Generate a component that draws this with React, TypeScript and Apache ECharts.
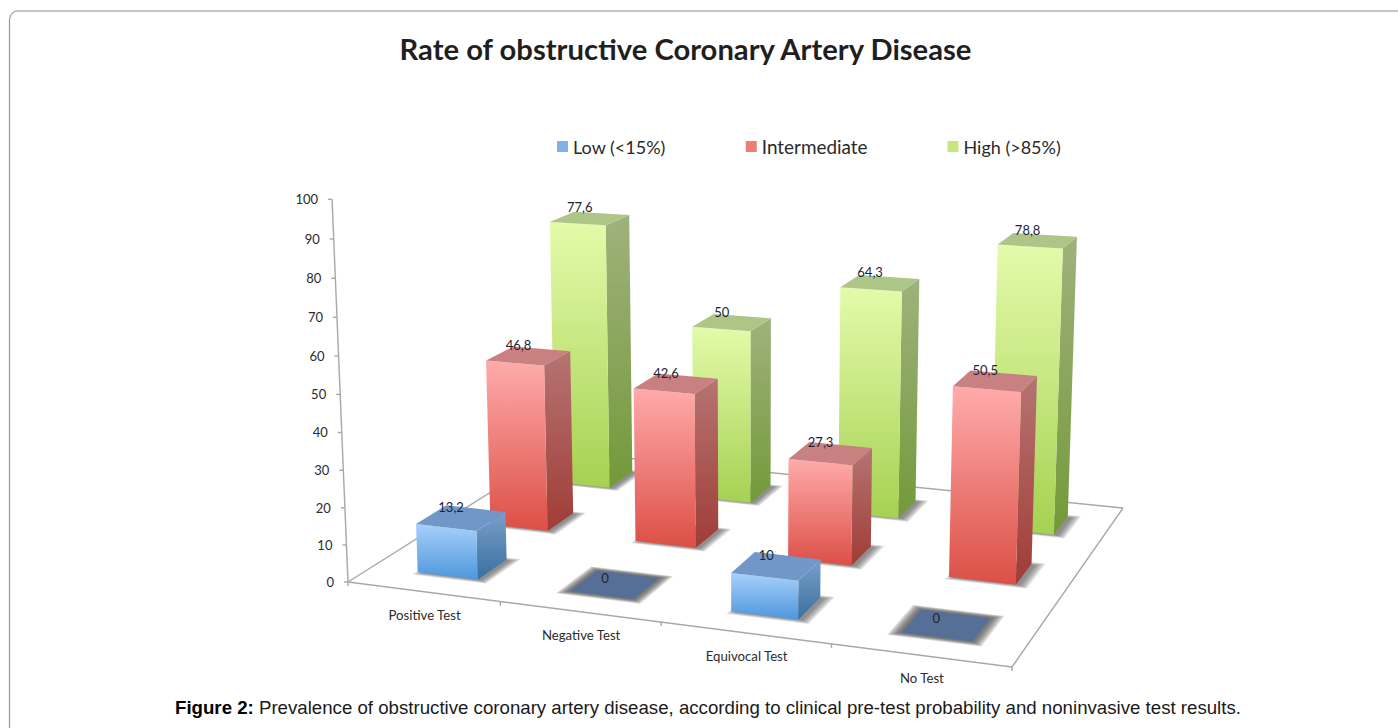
import React, { useEffect, useRef } from "react";
import * as echarts from "echarts";

const categories = ["Positive Test", "Negative Test", "Equivocal Test", "No Test"];
const lowValues = [13.2, 0, 10, 0];
const intermediateValues = [46.8, 42.6, 27.3, 50.5];
const highValues = [77.6, 50, 64.3, 78.8];
const valueTicks = [0, 10, 20, 30, 40, 50, 60, 70, 80, 90, 100];
const seriesNames = ["Low (<15%)", "Intermediate", "High (>85%)"];

const FONT = "Lato, 'Open Sans', sans-serif";
const A = [348, 582], B = [1012, 667], C = [1123, 508], D = [556, 451];
const VP = [750, 10243];
const VK = -3.81e-4;
const BAR_W = 0.1, BAR_D = 0.133, BAR_SHIFT = 0.002;
const SHADOW_STEPS = [0.016, 0.013, 0.01, 0.007, 0.004];

function homography() {
  const [x0, y0] = A, [x1, y1] = B, [x2, y2] = C, [x3, y3] = D;
  const dx1 = x1 - x2, dx2 = x3 - x2, sx = x0 - x1 + x2 - x3;
  const dy1 = y1 - y2, dy2 = y3 - y2, sy = y0 - y1 + y2 - y3;
  const det = dx1 * dy2 - dx2 * dy1;
  const g = (sx * dy2 - dx2 * sy) / det;
  const h = (dx1 * sy - sx * dy1) / det;
  return [x1 - x0 + g * x1, x3 - x0 + h * x3, x0, y1 - y0 + g * y1, y3 - y0 + h * y3, y0, g, h, 1];
}
const H = homography();
function project(u: number, z: number, v: number): number[] {
  const w = H[6] * u + H[7] * z + 1 + v * VK;
  const x = H[0] * u + H[1] * z + H[2] + v * VK * VP[0];
  const y = H[3] * u + H[4] * z + H[5] + v * VK * VP[1];
  return [x / w, y / w];
}
function normalised(params: any, api: any, cat: number, value: number) {
  const c = api.coord([cat, value]);
  const s = params.coordSys;
  return { u: (c[0] - s.x) / s.width, v: (100 * (s.y + s.height - c[1])) / s.height };
}
const grad = (a: string, b: string) =>
  new echarts.graphic.LinearGradient(0, 0, 0, 1, [{ offset: 0, color: a }, { offset: 1, color: b }]);

const palette = [
  { front: ["#a8d0fb", "#4d97dc"], side: ["#7b9fca", "#39709f"], top: "#7197c9", zero: "#566f96" },
  { front: ["#ffabab", "#dc4f46"], side: ["#b57473", "#a03c36"], top: "#c98080", zero: "#b06060" },
  { front: ["#e3fbaa", "#a6d152"], side: ["#9fb27c", "#73993a"], top: "#aec588", zero: "#90a070" },
];
const rowOf = (s: number) => (s + 0.5) / 3;

function foot(u: number, z: number, grow = 0, du = 0, dz = 0) {
  const hw = BAR_W / 2 + grow, hd = BAR_D / 2 + grow * 1.2;
  return [
    project(u - hw + du, z - hd + dz, 0),
    project(u + hw + du, z - hd + dz, 0),
    project(u + hw + du, z + hd + dz, 0),
    project(u - hw + du, z + hd + dz, 0),
  ];
}

function renderShadow(params: any, api: any) {
  const { u } = normalised(params, api, api.value(0), 0);
  const val = api.value(1);
  const z = rowOf(api.value(2));
  const uc = u + BAR_SHIFT;
  const isZero = val === 0;
  return {
    type: "group",
    silent: true,
    children: SHADOW_STEPS.map((g) => ({
      type: "polygon",
      shape: { points: isZero ? foot(uc, z, g) : foot(uc, z, g - 0.005, 0.008, -0.002) },
      style: { fill: isZero ? "rgba(70,70,70,0.22)" : "rgba(70,70,70,0.17)" },
    })),
  };
}

function makeBarRenderer(s: number) {
  return (params: any, api: any) => {
    const { u: u0, v } = normalised(params, api, api.value(0), api.value(1));
    const u = u0 + BAR_SHIFT;
    const z = rowOf(s);
    const p = palette[s];
    const hw = BAR_W / 2, hd = BAR_D / 2;
    const b = (uu: number, zz: number) => project(uu, zz, 0);
    const t = (uu: number, zz: number) => project(uu, zz, v);
    const fl = u - hw, fr = u + hw, zf = z - hd, zb = z + hd;
    const children: any[] = [];
    if (v > 0) {
      children.push({
        type: "polygon",
        shape: { points: [t(fr, zf), t(fr, zb), b(fr, zb), b(fr, zf)] },
        style: { fill: grad(p.side[0], p.side[1]) },
      });
      children.push({
        type: "polygon",
        shape: { points: [t(fl, zf), t(fr, zf), b(fr, zf), b(fl, zf)] },
        style: { fill: grad(p.front[0], p.front[1]) },
      });
    }
    children.push({
      type: "polygon",
      shape: { points: [t(fl, zf), t(fr, zf), t(fr, zb), t(fl, zb)] },
      style: { fill: v > 0 ? p.top : p.zero },
    });
    const c = t(u, z);
    children.push({
      type: "text",
      x: c[0] - 10,
      y: c[1] - (v > 0 ? 11 : 7),
      style: {
        text: String(api.value(1)).replace(".", ","),
        fill: "#1c2433",
        font: `13px ${FONT}`,
        align: "center",
        verticalAlign: "middle",
      },
    });
    return { type: "group", silent: true, children };
  };
}

const LINE = { stroke: "#a8a8a8", lineWidth: 1.4 };
function seg(a: number[], b: number[]) {
  return { type: "line", shape: { x1: a[0], y1: a[1], x2: b[0], y2: b[1] }, style: LINE };
}

function renderFloor() {
  const children: any[] = [seg(A, B), seg(B, C), seg(C, D), seg(D, A), seg(A, project(0, 0, 100))];
  for (let i = 0; i <= categories.length; i++) {
    const p = project(i / categories.length, 0, 0);
    children.push(seg(p, [p[0], p[1] + 4]));
  }
  return { type: "group", silent: true, children };
}

function renderValueTick(params: any, api: any) {
  const { v } = normalised(params, api, 0, api.value(0));
  const p = project(0, 0, v);
  return {
    type: "group",
    silent: true,
    children: [
      seg([p[0] - 4, p[1]], p),
      {
        type: "text",
        x: p[0] - 14,
        y: p[1],
        style: {
          text: String(api.value(0)),
          fill: "#2b2b2b",
          font: `13px ${FONT}`,
          align: "right",
          verticalAlign: "middle",
        },
      },
    ],
  };
}

function renderCategoryLabel(params: any, api: any) {
  const i = api.value(0);
  const { u } = normalised(params, api, i, 0);
  const p = project(u, 0, 0);
  return {
    type: "text",
    silent: true,
    x: p[0] + 1.5,
    y: p[1] + 23,
    style: {
      text: categories[i],
      fill: "#2b2b2b",
      font: `13.2px ${FONT}`,
      align: "center",
      verticalAlign: "middle",
    },
  };
}

const shadowData: number[][] = [];
[highValues, intermediateValues, lowValues].forEach((arr, k) =>
  arr.forEach((val, i) => shadowData.push([i, val, 2 - k]))
);

function toBarData(values: number[]) {
  return values.map((val, i) => [i, val]);
}

export default function App() {
  const ref = useRef<HTMLDivElement>(null);
  useEffect(() => {
    if (!ref.current) return;
    const chart = echarts.init(ref.current, undefined, { renderer: "svg" });
    const custom = { type: "custom", coordinateSystem: "cartesian2d", silent: true, clip: false };
    chart.setOption({
      animation: false,
      backgroundColor: "#ffffff",
      title: {
        text: "Rate of obstructive Coronary Artery Disease",
        left: 680.5,
        top: 29,
        textAlign: "center",
        textStyle: { fontFamily: FONT, fontWeight: "bold", fontSize: 29.2, color: "#1f1f1f" },
      },
      legend: {
        left: 552,
        top: 132,
        itemWidth: 11,
        itemHeight: 11,
        itemGap: 80,
        icon: "rect",
        data: [
          { name: seriesNames[0] },
          { name: seriesNames[1], textStyle: { fontSize: 18.9 } },
          { name: seriesNames[2] },
        ],
        selectedMode: false,
        textStyle: { fontFamily: FONT, fontSize: 18, color: "#2a2a2a" },
      },
      grid: { left: 100, right: 100, top: 100, bottom: 100 },
      xAxis: { type: "category", data: categories, show: false },
      yAxis: { type: "value", min: 0, max: 100, interval: 10, show: false },
      graphic: [
        { type: "line", shape: { x1: 18, y1: 11, x2: 1398, y2: 11 }, style: { stroke: "#c6c6c6", lineWidth: 2 } },
        { type: "line", shape: { x1: 9.5, y1: 19, x2: 9.5, y2: 728 }, style: { stroke: "#999999", lineWidth: 1.2 } },
        {
          type: "arc",
          shape: { cx: 18, cy: 19, r: 8.2, startAngle: Math.PI, endAngle: Math.PI * 1.5 },
          style: { stroke: "#b0b0b0", lineWidth: 1.4, fill: "none" },
        },
        {
          type: "text",
          left: 175,
          top: 698,
          style: {
            text: "{b|Figure 2:} Prevalence of obstructive coronary artery disease, according to clinical pre-test probability and noninvasive test results.",
            font: "18.67px 'Liberation Sans', Arial, sans-serif",
            fill: "#1a1a1a",
            rich: {
              b: { font: "bold 18.67px 'Liberation Sans', Arial, sans-serif", fill: "#000" },
            },
          },
        },
      ],
      series: [
        { ...custom, name: "floor", data: [[0, 0]], renderItem: renderFloor, encode: { x: 0, y: 1 } },
        { ...custom, name: "ticks", data: valueTicks.map((t) => [t]), renderItem: renderValueTick, encode: { y: 0 } },
        { ...custom, name: "labels", data: categories.map((_, i) => [i, 0]), renderItem: renderCategoryLabel, encode: { x: 0, y: 1 } },
        { ...custom, name: "shadows", data: shadowData, renderItem: renderShadow, encode: { x: 0, y: 1 } },
        {
          ...custom,
          name: seriesNames[2],
          data: toBarData(highValues),
          renderItem: makeBarRenderer(2),
          encode: { x: 0, y: 1 },
          itemStyle: { color: "#c6e67e" },
        },
        {
          ...custom,
          name: seriesNames[1],
          data: toBarData(intermediateValues),
          renderItem: makeBarRenderer(1),
          encode: { x: 0, y: 1 },
          itemStyle: { color: "#ee7d78" },
        },
        {
          ...custom,
          name: seriesNames[0],
          data: toBarData(lowValues),
          renderItem: makeBarRenderer(0),
          encode: { x: 0, y: 1 },
          itemStyle: { color: "#7fb2ea" },
        },
      ],
    });
    return () => chart.dispose();
  }, []);
  return <div ref={ref} style={{ position: "absolute", left: 0, top: 0, width: 1398, height: 728 }} />;
}
